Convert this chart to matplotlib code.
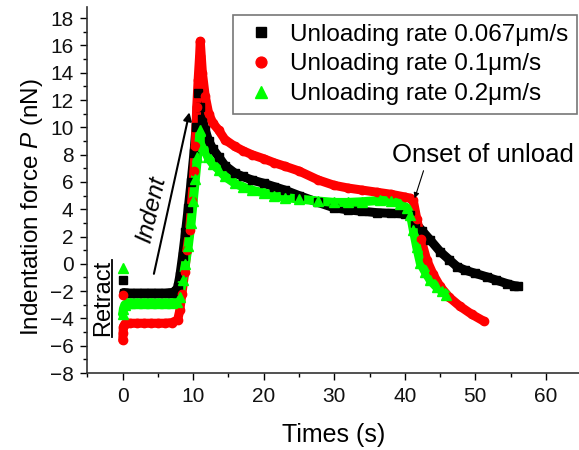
# Indentation force vs time for three unloading rates

import matplotlib.pyplot as plt

plt.rcParams['font.family'] = ['Liberation Sans', 'DejaVu Sans']
plt.rcParams['mathtext.fontset'] = 'custom'
plt.rcParams['mathtext.it'] = 'Liberation Sans:italic'
plt.rcParams['mathtext.rm'] = 'Liberation Sans'

# data (time in s, force in nN)
black_t = [0, 0.15, 1, 2, 3, 4, 5, 6, 7, 7.5, 7.8, 8.1, 8.5, 8.9, 9.3, 9.7, 10.1, 10.4, 10.7,
           11.0, 11.3, 11.7, 12.2, 12.8, 13.6, 14.5, 15.9, 17.0, 18.3, 20.0, 21.5, 23.0, 25.0,
           27.7, 30.0, 32.0, 34.0, 36.0, 38.0, 40.0, 40.8, 41.5, 42.5, 43.6, 45.0, 46.3, 47.4,
           48.5, 50.0, 51.6, 53.0, 54.5, 55.5, 56.1]
black_p = [-1.2, -2.1, -2.15, -2.15, -2.15, -2.15, -2.15, -2.15, -2.1, -2.0, -1.7, -0.9, 0.6,
           2.3, 4.1, 6.0, 8.1, 10.0, 12.5, 11.5, 10.6, 9.8, 9.0, 8.4, 7.85, 7.2, 6.65, 6.4, 6.15,
           5.9, 5.65, 5.4, 5.0, 4.5, 4.1, 3.95, 3.85, 3.75, 3.7, 3.65, 3.55, 3.0, 2.4, 1.75, 0.9,
           0.3, -0.2, -0.45, -0.7, -0.95, -1.2, -1.45, -1.6, -1.65]

red_t = [0, 0, 0.05, 0.1, 0.3, 0.6, 1, 2, 3, 4, 5, 6, 7, 7.8, 8.1, 8.4, 8.8, 9.1, 9.5, 9.8,
         10.1, 10.3, 10.5, 10.7, 10.9, 11.0, 11.3, 11.7, 12.2, 12.8, 13.6, 14.5, 15.9, 17.0,
         18.3, 20.0, 21.5, 23.0, 25.0, 27.7, 30.0, 32.0, 34.0, 36.0, 38.0, 40.0, 40.8, 41.2,
         41.7, 42.3, 43.1, 44.0, 45.0, 46.3, 47.8, 49.5, 51.2]
red_p = [-2.3, -5.6, -5.1, -4.6, -4.4, -4.35, -4.35, -4.35, -4.35, -4.35, -4.35, -4.35, -4.3,
         -4.1, -3.4, -2.2, -0.6, 1.0, 2.5, 4.6, 6.8, 8.6, 11.5, 13.5, 15.2, 16.3, 14.0, 12.3,
         11.0, 10.3, 9.8, 9.1, 8.6, 8.3, 8.0, 7.7, 7.4, 7.15, 6.8, 6.15, 5.75, 5.55, 5.4, 5.25,
         5.1, 4.9, 4.8, 4.65, 3.3, 1.8, 0.3, -0.75, -1.65, -2.45, -3.1, -3.7, -4.2]

green_t = [0, 0, 0.1, 0.3, 0.6, 1, 2, 3, 4, 5, 6, 7, 7.7, 8.1, 8.5, 8.9, 9.3, 9.7, 10.0, 10.3,
           10.6, 11.0, 11.4, 12.1, 12.8, 13.6, 14.5, 15.9, 17.0, 18.3, 20.0, 21.5, 23.0, 25.0,
           27.7, 30.0, 32.0, 34.0, 36.5, 38.0, 39.3, 40.3, 40.8, 41.2, 41.7, 42.2, 42.9, 43.6,
           44.5, 45.3, 45.9]
green_p = [-0.3, -3.7, -3.3, -3.0, -2.9, -2.85, -2.85, -2.85, -2.85, -2.85, -2.85, -2.85, -2.8,
           -2.4, -1.2, 0.0, 1.3, 3.0, 4.6, 6.2, 7.8, 9.8, 8.6, 7.8, 7.3, 6.9, 6.4, 5.9, 5.65,
           5.4, 5.2, 5.0, 4.85, 4.75, 4.6, 4.5, 4.5, 4.55, 4.65, 4.6, 4.4, 4.1, 3.6, 2.5, 1.2,
           0.05, -0.6, -1.2, -1.7, -2.0, -2.25]

labels = ['Unloading rate 0.067\u03bcm/s', 'Unloading rate 0.1\u03bcm/s', 'Unloading rate 0.2\u03bcm/s']

fig = plt.figure(figsize=(5.79, 4.5), dpi=100)
ax = fig.add_axes([0.151, 0.171, 0.849, 0.813])

# thick line under the markers, skipping the first (isolated) point
ax.plot(black_t[1:], black_p[1:], color='black', lw=6.5, solid_capstyle='round')
ax.plot(red_t[1:], red_p[1:], color='#ff0000', lw=6.5, solid_capstyle='round')
ax.plot(green_t[1:], green_p[1:], color='#00ff00', lw=6.5, solid_capstyle='round')

ax.plot(black_t, black_p, ls='none', marker='s', ms=5.5, color='black', label=labels[0])
ax.plot(red_t, red_p, ls='none', marker='o', ms=6, color='#ff0000', label=labels[1])
ax.plot(green_t, green_p, ls='none', marker='^', ms=6.5, color='#00ff00', label=labels[2])

ax.set_xlim(-5, 64.7)
ax.set_ylim(-8, 18.8)
ax.set_xticks(range(0, 61, 10))
ax.set_xticks(range(-5, 65, 5), minor=True)
ax.set_yticks(range(-8, 19, 2))
ax.set_yticks(range(-8, 19, 1), minor=True)
ax.tick_params(which='major', direction='out', length=5, width=1, labelsize=15, pad=5,
               labelcolor='#111111')
ax.tick_params(which='minor', direction='out', length=3, width=1)

for s in ['top', 'right']:
    ax.spines[s].set_visible(False)
for s in ['left', 'bottom']:
    ax.spines[s].set_color('#333333')
    ax.spines[s].set_linewidth(1.2)

ax.set_xlabel('Times (s)', fontsize=18, va='center')
ax.xaxis.set_label_coords(0.5, -0.169)
ax.set_ylabel('Indentation force $P$ (nN)', fontsize=17.5, va='center')
ax.yaxis.set_label_coords(-0.113, 0.454)

# annotations
ax.annotate('', xy=(9.55, 11.3), xytext=(4.34, -0.93),
            arrowprops=dict(arrowstyle='-|>', lw=1.5, color='black', mutation_scale=12))
ax.text(4.1, 4.0, 'Indent', fontsize=17.5, style='italic', rotation=77, ha='center', va='center')

ax.text(-2.75, -2.5, 'Retract', fontsize=17, rotation=90, ha='center', va='center')
ax.plot([-1.5, -1.5], [0.3, -5.35], color='black', lw=1.3)

ax.annotate('Onset of unload', xy=(41.4, 4.8), xytext=(38.2, 8.0), fontsize=18.5,
            va='center', ha='left',
            arrowprops=dict(arrowstyle='-|>', lw=0.8, color='black', mutation_scale=8,
                            shrinkA=1, shrinkB=0, relpos=(0.18, 0)))

leg = ax.legend(loc='upper left', bbox_to_anchor=(233 / 579, 1 - 15 / 450),
                bbox_transform=fig.transFigure, fontsize=17.5, frameon=True, fancybox=False,
                borderpad=0.35, labelspacing=0.32, handlelength=1.6, handletextpad=0.4,
                markerscale=1.3, borderaxespad=0)
leg.get_frame().set_edgecolor('#555555')
leg.get_frame().set_linewidth(1.2)

plt.savefig('out.png', dpi=100)
